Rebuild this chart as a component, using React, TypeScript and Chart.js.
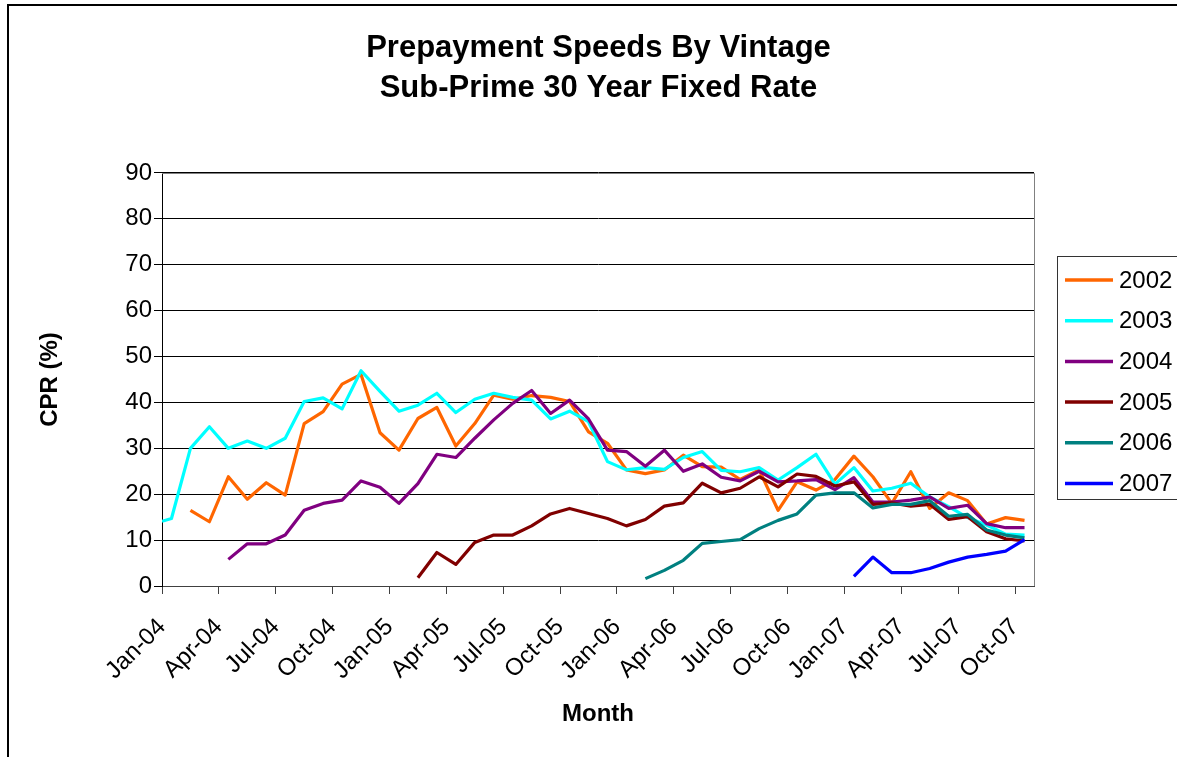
import React, { useEffect, useRef } from "react";
import { Chart, registerables } from "chart.js";

Chart.register(...registerables);

const FONT = '"Liberation Sans", Arial, Helvetica, sans-serif';

// 46 monthly slots, Jan-04 .. Oct-07
const MONTHS = [
  "Jan-04", "Feb-04", "Mar-04", "Apr-04", "May-04", "Jun-04", "Jul-04", "Aug-04", "Sep-04", "Oct-04", "Nov-04", "Dec-04",
  "Jan-05", "Feb-05", "Mar-05", "Apr-05", "May-05", "Jun-05", "Jul-05", "Aug-05", "Sep-05", "Oct-05", "Nov-05", "Dec-05",
  "Jan-06", "Feb-06", "Mar-06", "Apr-06", "May-06", "Jun-06", "Jul-06", "Aug-06", "Sep-06", "Oct-06", "Nov-06", "Dec-06",
  "Jan-07", "Feb-07", "Mar-07", "Apr-07", "May-07", "Jun-07", "Jul-07", "Aug-07", "Sep-07", "Oct-07",
];

const TICK_LABELS = [
  "Jan-04", "Apr-04", "Jul-04", "Oct-04", "Jan-05", "Apr-05", "Jul-05", "Oct-05",
  "Jan-06", "Apr-06", "Jul-06", "Oct-06", "Jan-07", "Apr-07", "Jul-07", "Oct-07",
];

const Y_MIN = 0;
const Y_MAX = 90;
const Y_STEP = 10;

const V2002 = [
  null, 16.5, 14.0, 23.8, 18.9, 22.5, 19.8, 35.4, 38.0, 44.0, 46.1, 33.4,
  29.6, 36.5, 38.9, 30.5, 35.4, 41.6, 40.7, 41.5, 41.1, 40.2, 33.6, 31.1,
  25.3, 24.5, 25.3, 28.5, 26.0, 25.9, 23.2, 25.3, 16.5, 22.7, 20.9, 23.2,
  28.3, 23.8, 18.0, 24.9, 16.9, 20.3, 18.6, 13.5, 14.9, 14.3,
];

// 2003 vintage also has a reading at the very start of Jan-04 (left edge)
const V2003_START = 14.1;
const V2003 = [
  14.7, 30.0, 34.7, 30.0, 31.6, 30.0, 32.2, 40.2, 41.0, 38.6, 46.9, 42.4,
  38.1, 39.4, 42.0, 37.8, 40.7, 42.0, 41.1, 40.5, 36.4, 38.1, 35.8, 27.1,
  25.3, 25.8, 25.4, 28.0, 29.3, 25.2, 24.9, 25.8, 23.1, 25.8, 28.7, 22.2,
  25.8, 20.7, 21.3, 22.4, 19.4, 17.3, 14.9, 13.3, 11.3, 11.1,
];

const V2004 = [
  null, null, null, 5.8, 9.2, 9.2, 11.1, 16.5, 18.0, 18.7, 22.9, 21.5,
  18.0, 22.3, 28.7, 28.0, 32.2, 36.2, 39.8, 42.6, 37.6, 40.5, 36.4, 29.6,
  29.3, 26.1, 29.6, 25.0, 26.6, 23.7, 22.9, 25.0, 22.7, 22.9, 23.2, 21.0,
  23.6, 18.3, 18.3, 18.7, 19.4, 16.9, 17.6, 13.6, 12.7, 12.7,
];

const V2005 = [
  null, null, null, null, null, null, null, null, null, null, null, null,
  null, 1.8, 7.3, 4.7, 9.5, 11.1, 11.1, 13.1, 15.7, 16.9, 15.8, 14.7,
  13.1, 14.5, 17.4, 18.1, 22.4, 20.3, 21.3, 23.8, 21.6, 24.4, 23.9, 21.8,
  22.7, 17.8, 18.1, 17.4, 17.8, 14.5, 15.1, 11.8, 10.3, 9.8,
];

const V2006 = [
  null, null, null, null, null, null, null, null, null, null, null, null,
  null, null, null, null, null, null, null, null, null, null, null, null,
  null, 1.6, 3.4, 5.6, 9.3, 9.7, 10.1, 12.5, 14.3, 15.7, 19.8, 20.3,
  20.3, 17.0, 17.8, 17.8, 18.6, 15.2, 15.6, 12.2, 11.1, 10.5,
];

const V2007 = [
  null, null, null, null, null, null, null, null, null, null, null, null,
  null, null, null, null, null, null, null, null, null, null, null, null,
  null, null, null, null, null, null, null, null, null, null, null, null,
  2.1, 6.3, 2.9, 2.9, 3.8, 5.2, 6.3, 6.9, 7.6, 10.1,
];

const SERIES_LABELS = ["2002", "2003", "2004", "2005", "2006", "2007"];
const SERIES_COLORS = ["#FF6600", "#00FFFF", "#800080", "#800000", "#008080", "#0000FF"];
const SERIES_VALUES = [V2002, V2003, V2004, V2005, V2006, V2007];
const SERIES_START: (number | null)[] = [null, V2003_START, null, null, null, null];

function toPoints(values: (number | null)[], start: number | null) {
  const pts: { x: number; y: number }[] = [];
  if (start != null) pts.push({ x: 0, y: start });
  values.forEach((v, i) => {
    if (v != null) pts.push({ x: i + 0.5, y: v }); // mid-month position
  });
  return pts;
}

const boxLegend = {
  id: "boxLegend",
  afterDraw(chart: any) {
    const { ctx, chartArea } = chart;
    const left = chartArea.right + 23;
    const top = 256.5;
    ctx.save();
    ctx.strokeStyle = "#333333";
    ctx.lineWidth = 1;
    ctx.strokeRect(Math.round(left) + 0.5, top, 200, 243);
    ctx.font = `24px ${FONT}`;
    ctx.textBaseline = "middle";
    ctx.textAlign = "left";
    chart.data.datasets.forEach((d: any, k: number) => {
      const y = 280 + k * 40.7;
      ctx.strokeStyle = d.borderColor;
      ctx.lineWidth = 3.5;
      ctx.beginPath();
      ctx.moveTo(left + 8, y);
      ctx.lineTo(left + 56, y);
      ctx.stroke();
      ctx.fillStyle = "#000";
      ctx.fillText(d.label, left + 62, y + 1);
    });
    ctx.restore();
  },
};

const frame = {
  id: "frame",
  beforeDatasetsDraw(chart: any) {
    const { ctx, chartArea } = chart;
    ctx.save();
    ctx.strokeStyle = "#808080";
    ctx.lineWidth = 1;
    ctx.beginPath();
    ctx.moveTo(Math.round(chartArea.left), Math.round(chartArea.top) + 0.5);
    ctx.lineTo(Math.round(chartArea.right) + 0.5, Math.round(chartArea.top) + 0.5);
    ctx.lineTo(Math.round(chartArea.right) + 0.5, Math.round(chartArea.bottom));
    ctx.stroke();
    ctx.restore();
  },
  afterDraw(chart: any) {
    const { ctx } = chart;
    ctx.save();
    ctx.strokeStyle = "#000";
    ctx.lineWidth = 2;
    ctx.strokeRect(8, 5, chart.width + 20, chart.height + 20);
    ctx.restore();
  },
};

export default function App() {
  const ref = useRef<HTMLCanvasElement>(null);

  useEffect(() => {
    if (!ref.current) return;
    const datasets = SERIES_LABELS.map((label, k) => ({
      label,
      data: toPoints(SERIES_VALUES[k], SERIES_START[k]),
      borderColor: SERIES_COLORS[k],
      backgroundColor: SERIES_COLORS[k],
      borderWidth: 3.2,
      pointRadius: 0,
      pointHoverRadius: 0,
      tension: 0,
      fill: false,
      borderJoinStyle: "round" as const,
      order: SERIES_LABELS.length - k,
    }));

    const chart = new Chart(ref.current, {
      type: "line",
      data: { datasets },
      plugins: [frame, boxLegend],
      options: {
        animation: false,
        responsive: false,
        devicePixelRatio: 1,
        layout: { padding: 0 },
        plugins: {
          legend: { display: false },
          tooltip: { enabled: false },
          title: {
            display: true,
            text: ["Prepayment Speeds By Vintage", "Sub-Prime 30 Year Fixed Rate"],
            color: "#000",
            font: { family: FONT, size: 31, weight: "bold", lineHeight: 1.29 },
            padding: { top: 28, bottom: 65 },
          },
        },
        scales: {
          x: {
            type: "linear",
            min: 0,
            max: MONTHS.length,
            afterBuildTicks: (s: any) => {
              s.ticks = TICK_LABELS.map((_, k) => ({ value: k * 3 }));
            },
            afterFit: (s: any) => {
              s.height = 171;
            },
            ticks: {
              autoSkip: false,
              minRotation: 45,
              maxRotation: 45,
              padding: 19,
              color: "#000",
              font: { family: FONT, size: 24 },
              callback: (_v: any, i: number) => TICK_LABELS[i],
            },
            grid: { drawOnChartArea: false, drawTicks: true, tickLength: 8, color: "#404040" },
            border: { color: "#404040", width: 1 },
            title: {
              display: true,
              text: "Month",
              color: "#000",
              font: { family: FONT, size: 24, weight: "bold" },
              padding: { top: 0, bottom: 28 },
            },
          },
          y: {
            type: "linear",
            position: "left",
            min: Y_MIN,
            max: Y_MAX,
            afterFit: (s: any) => {
              s.width = 162;
            },
            ticks: {
              stepSize: Y_STEP,
              padding: 2,
              color: "#000",
              font: { family: FONT, size: 24 },
            },
            grid: { color: "#000", lineWidth: 1, drawTicks: true, tickLength: 8 },
            border: { color: "#000", width: 1 },
            title: {
              display: true,
              text: "CPR (%)",
              color: "#000",
              font: { family: FONT, size: 24, weight: "bold" },
              padding: { top: 36, bottom: 0 },
            },
          },
          y2: {
            type: "linear",
            position: "right",
            display: true,
            afterFit: (s: any) => {
              s.width = 163;
            },
            ticks: { display: false },
            grid: { display: false, drawTicks: false },
            border: { display: false },
          },
        },
      } as any,
    });
    return () => chart.destroy();
  }, []);

  return (
    <div
      style={{
        position: "fixed",
        left: 0,
        top: 0,
        width: 1177,
        height: 757,
        overflow: "hidden",
        background: "#fff",
      }}
    >
      <canvas ref={ref} width={1197} height={757} style={{ display: "block", width: 1197, height: 757 }} />
    </div>
  );
}
